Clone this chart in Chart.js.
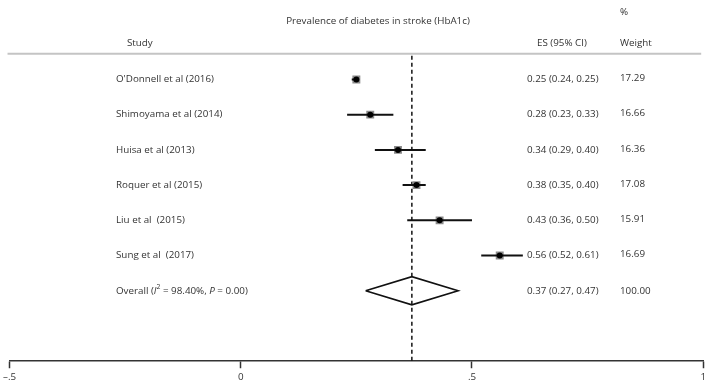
<!DOCTYPE html>
<html>
<head>
<meta charset="utf-8">
<script src="https://cdn.jsdelivr.net/npm/chart.js@4"></script>
<style>
  html, body { margin: 0; padding: 0; background: #fff; }
  #wrap { width: 709px; height: 386px; }
</style>
</head>
<body>
<div id="wrap"><canvas id="forest"></canvas></div>
<script>
// study data (prevalence of diabetes in stroke, HbA1c)
const studies = ["O'Donnell et al (2016)", 'Shimoyama et al (2014)', 'Huisa et al (2013)',
  'Roquer et al (2015)', 'Liu et al  (2015)', 'Sung et al  (2017)'];
const es = [0.25, 0.28, 0.34, 0.38, 0.43, 0.56];
const ciLow = [0.24, 0.23, 0.29, 0.35, 0.36, 0.52];
const ciHigh = [0.25, 0.33, 0.40, 0.40, 0.50, 0.61];
const esText = ['0.25 (0.24, 0.25)', '0.28 (0.23, 0.33)', '0.34 (0.29, 0.40)',
  '0.38 (0.35, 0.40)', '0.43 (0.36, 0.50)', '0.56 (0.52, 0.61)'];
const weights = ['17.29', '16.66', '16.36', '17.08', '15.91', '16.69'];

const overallEs = 0.37;
const overallLow = 0.27;
const overallHigh = 0.47;
const overallText = '0.37 (0.27, 0.47)';
const overallWeight = '100.00';

const xTicks = [-0.5, 0, 0.5, 1];
const xTickLabels = ['\u2013.5', '0', '.5', '1'];

const overallRow = studies.length;
const FONT = '"Open Sans", "Noto Sans", sans-serif';
const TEXT = '#333';

// build datasets (lower order = drawn on top)
const datasets = [];

// point estimates
datasets.push({
  order: 0,
  data: es.map((v, i) => ({ x: v, y: i })),
  pointStyle: 'circle',
  pointRadius: 3,
  backgroundColor: '#000',
  borderColor: '#000',
  borderWidth: 0,
  showLine: false
});

// CI whiskers
studies.forEach((s, i) => {
  datasets.push({
    order: 1,
    data: [{ x: ciLow[i], y: i }, { x: ciHigh[i], y: i }],
    showLine: true,
    borderColor: '#111',
    borderWidth: 2,
    pointRadius: 0
  });
});

// weight boxes
datasets.push({
  order: 2,
  data: es.map((v, i) => ({ x: v, y: i })),
  pointStyle: 'rect',
  pointRadius: 5.6,
  backgroundColor: '#8a8a8a',
  borderColor: '#8a8a8a',
  borderWidth: 0,
  showLine: false
});

// overall diamond
datasets.push({
  order: 3,
  data: [
    { x: overallLow, y: overallRow },
    { x: overallEs, y: overallRow - 0.4 },
    { x: overallHigh, y: overallRow },
    { x: overallEs, y: overallRow + 0.4 },
    { x: overallLow, y: overallRow }
  ],
  showLine: true,
  borderColor: '#111',
  borderWidth: 1.6,
  pointRadius: 0,
  tension: 0
});

// dashed line at pooled estimate
datasets.push({
  order: 4,
  data: [{ x: overallEs, y: -0.67 }, { x: overallEs, y: 8 }],
  showLine: true,
  borderColor: '#111',
  borderWidth: 1.5,
  borderDash: [4, 3],
  pointRadius: 0
});

function drawRuns(ctx, runs, x, y, size) {
  let cx = x;
  runs.forEach(r => {
    const fs = r.sup ? size * 0.7 : size;
    ctx.font = (r.italic ? 'italic ' : '') + fs + 'px ' + FONT;
    ctx.fillText(r.t, cx, r.sup ? y - size * 0.35 : y);
    cx += ctx.measureText(r.t).width;
  });
}

const textPlugin = {
  id: 'forestText',
  afterDatasetsDraw(chart) {
    const { ctx, scales } = chart;
    const yS = scales.y;
    const xS = scales.x;
    ctx.save();
    ctx.fillStyle = TEXT;
    ctx.textBaseline = 'middle';
    ctx.textAlign = 'left';
    const size = 9.8;
    ctx.font = size + 'px ' + FONT;

    // header separator
    ctx.strokeStyle = '#c4c4c4';
    ctx.lineWidth = 2;
    ctx.beginPath();
    const ySep = yS.getPixelForValue(-0.73);
    ctx.moveTo(xS.left - 2, ySep);
    ctx.lineTo(xS.right - 2, ySep);
    ctx.stroke();

    // headers
    ctx.textAlign = 'center';
    ctx.fillText('Prevalence of diabetes in stroke (HbA1c)', 378, yS.getPixelForValue(-1.66));
    ctx.textAlign = 'left';
    ctx.fillText('%', 620, yS.getPixelForValue(-1.92));
    ctx.fillText('Study', 127, yS.getPixelForValue(-1.04));
    ctx.fillText('ES (95% CI)', 537, yS.getPixelForValue(-1.04));
    ctx.fillText('Weight', 620, yS.getPixelForValue(-1.04));

    // rows
    studies.forEach((s, i) => {
      const y = yS.getPixelForValue(i);
      ctx.fillText(s, 116, y);
      ctx.fillText(esText[i], 527, y);
      ctx.fillText(weights[i], 620, y - 1);
    });

    const yo = yS.getPixelForValue(overallRow);
    drawRuns(ctx, [
      { t: 'Overall (' },
      { t: 'I', italic: true },
      { t: '2', sup: true },
      { t: ' = 98.40%, ' },
      { t: 'P', italic: true },
      { t: ' = 0.00)' }
    ], 116, yo, size);
    ctx.font = size + 'px ' + FONT;
    ctx.fillText(overallText, 527, yo);
    ctx.fillText(overallWeight, 620, yo);
    ctx.restore();
  }
};

new Chart(document.getElementById('forest'), {
  type: 'scatter',
  data: { datasets },
  options: {
    responsive: true,
    maintainAspectRatio: false,
    animation: false,
    events: [],
    layout: { padding: { left: 5, right: 5, top: 0, bottom: 0 } },
    plugins: { legend: { display: false }, tooltip: { enabled: false } },
    scales: {
      x: {
        type: 'linear',
        min: -0.5,
        max: 1,
        afterBuildTicks: scale => { scale.ticks = xTicks.map(v => ({ value: v })); },
        ticks: {
          autoSkip: false,
          maxRotation: 0,
          padding: 3,
          color: TEXT,
          font: { family: FONT, size: 9.8 },
          callback: (v) => xTickLabels[xTicks.indexOf(v)]
        },
        grid: {
          drawOnChartArea: false,
          drawTicks: true,
          tickLength: 7,
          tickWidth: 1.5,
          tickColor: '#333'
        },
        border: { display: true, color: '#333', width: 1.5 }
      },
      y: {
        type: 'linear',
        display: false,
        reverse: true,
        min: -2.096,
        max: 8
      }
    }
  },
  plugins: [textPlugin]
});
</script>
</body>
</html>
